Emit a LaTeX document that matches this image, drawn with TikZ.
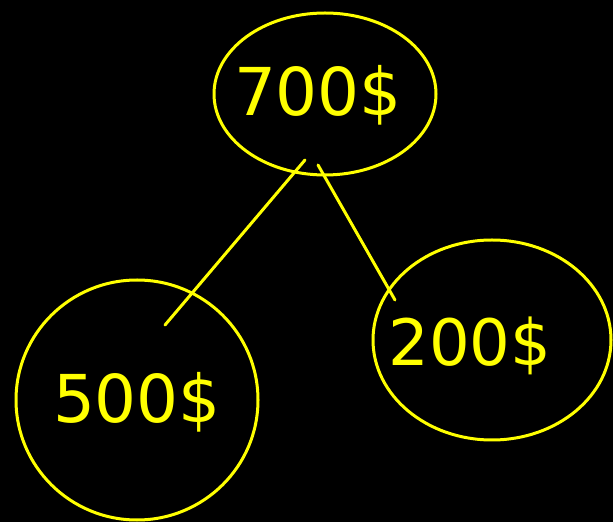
\documentclass[tikz,border=0pt]{standalone}
\usepackage{fontspec}
\setmainfont{DejaVu Sans}
\usetikzlibrary{shapes.geometric,calc}
\definecolor{hand}{HTML}{FFFF00}
\tikzset{
  money/.style={ellipse, draw=hand, line width=3pt, inner sep=0pt},
  amount/.style={text=hand, inner sep=0pt},
  link/.style={draw=hand, line width=3pt, line cap=round}
}
\begin{document}
\begin{tikzpicture}[x=1pt,y=1pt]
\fill[black] (0,0) rectangle (613,522);
\useasboundingbox (0,0) rectangle (613,522);
\node[money, minimum width=222, minimum height=162] (top) at (325,428) {};
\node[money, minimum width=242, minimum height=240] (left) at (137,122) {};
\node[money, minimum width=238, minimum height=200] (right) at (492,182) {};
\node[amount, font=\fontsize{66}{68}\selectfont] (toptext) at (318,427) {700\$};
\node[amount, font=\fontsize{66}{68}\selectfont] (lefttext) at (137,120) {500\$};
\node[amount, font=\fontsize{64}{66}\selectfont] (righttext) at (470,176) {200\$};
\coordinate (t1) at (305,362);
\coordinate (l1) at (165,197);
\coordinate (t2) at (318,357);
\coordinate (r1) at (395,222);
\draw[link] (t1) -- (l1);
\draw[link] (t2) -- (r1);
\end{tikzpicture}
\end{document}
